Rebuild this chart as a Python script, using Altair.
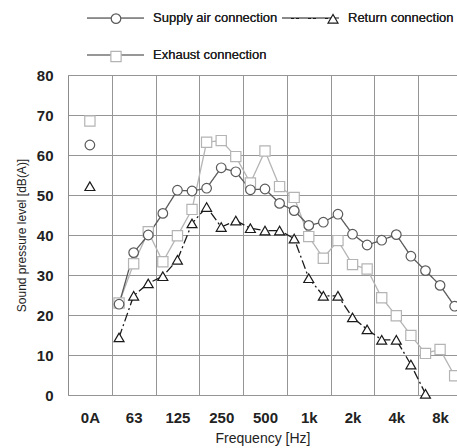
import altair as alt
import pandas as pd

series_names = ["Supply air connection", "Return connection", "Exhaust connection"]
series_colors = ["#5a5a5a", "#1a1a1a", "#b4b4b4"]
series_dashes = [[1, 0], [9, 3, 2, 3], [1, 0]]
marker_shapes = ["circle", "triangle-up", "square"]
marker_sizes = [92, 105, 70]

column_labels = ["0A", "63", "125", "250", "500", "1k", "2k", "4k", "8k"]
bands = ["50", "63", "80", "100", "125", "160", "200", "250", "315", "400", "500", "630",
         "800", "1k", "1.25k", "1.6k", "2k", "2.5k", "3.15k", "4k", "5k", "6.3k", "8k", "10k"]

oa_db = [62.5, 52.2, 68.5]
supply_db = [22.7, 35.6, 40.0, 45.4, 51.2, 51.0, 51.7, 56.8, 55.8, 51.3, 51.5, 47.9,
             46.1, 42.4, 43.2, 45.2, 40.2, 37.5, 38.7, 40.1, 34.7, 31.1, 27.4, 22.2]
return_db = [14.4, 24.8, 27.9, 29.7, 33.8, 42.9, 47.0, 42.0, 43.6, 41.7, 41.1, 41.1,
             39.1, 29.2, 24.8, 24.8, 19.4, 16.4, 13.8, 13.8, 7.6, 0.3]
exhaust_db = [23.0, 32.8, 40.8, 33.3, 39.8, 46.4, 63.2, 63.6, 59.6, 53.0, 61.0, 52.1,
              49.4, 39.6, 34.2, 38.6, 32.6, 31.5, 24.3, 19.8, 14.9, 10.4, 11.4, 4.8]

# slot layout: one octave column = 3 slots; column 0 holds the overall value
slots = ["oa_l", "0A", "oa_r"] + bands

rows = []
values_by_series = {0: supply_db, 1: return_db, 2: exhaust_db}
for k in [2, 0, 1]:  # drawing order: exhaust, supply, return on top
    name = series_names[k]
    rows.append({"series": name, "band": "0A", "slot": slots.index("0A") + 0.5, "db": oa_db[k], "kind": "oa"})
    for b, v in zip(bands, values_by_series[k]):
        rows.append({"series": name, "band": b, "slot": slots.index(b) + 0.5, "db": v, "kind": "band"})
df = pd.DataFrame(rows)

W, H = 389, 320
x_max = 26.66
col_px = W / x_max * 3

label_font = "Liberation Sans, Arial, sans-serif"
text_font = "Liberation Sans, Arial, sans-serif"

x_enc = alt.X(
    "slot:Q",
    scale=alt.Scale(domain=[0, x_max], nice=False, zero=False),
    axis=alt.Axis(
        values=[0, 3, 6, 9, 12, 15, 18, 21, 24],
        labelExpr="['" + "','".join(column_labels) + "'][floor(datum.value / 3 + 0.01)]",
        labelOffset=col_px / 2,
        labelAlign="center",
        labelFlush=False,
        labelOverlap=False,
        labelPadding=15,
        labelFont=label_font,
        labelFontSize=15,
        labelFontWeight="bold",
        labelColor="#222222",
        ticks=False,
        domain=False,
        grid=True,
        title="Frequency [Hz]",
        titleFont=text_font,
        titleFontSize=14,
        titleFontWeight="normal",
        titleColor="#222222",
        titlePadding=6,
    ),
)
y_enc = alt.Y(
    "db:Q",
    scale=alt.Scale(domain=[0, 80], nice=False),
    axis=alt.Axis(
        values=[0, 10, 20, 30, 40, 50, 60, 70, 80],
        labelPadding=15,
        labelFont=label_font,
        labelFontSize=15,
        labelFontWeight="bold",
        labelColor="#222222",
        ticks=False,
        tickSize=0,
        domain=True,
        domainColor="#8c8c8c",
        grid=True,
        title="Sound pressure level [dB(A)]",
        titleFont=text_font,
        titleFontSize=12,
        titleFontWeight="normal",
        titleColor="#222222",
        titlePadding=8,
    ),
)

base = alt.Chart(df).encode(x=x_enc, y=y_enc)

LEG_X = 18
leg_lines = alt.Legend(
    title=None, orient="none", direction="horizontal", legendX=LEG_X, legendY=-86.5, columns=2,
    symbolType="stroke", symbolSize=3249, symbolStrokeWidth=1.3,
    labelOffset=8, columnPadding=1, rowPadding=0,
)
leg_marks = alt.Legend(
    title=None, orient="none", direction="horizontal", legendX=LEG_X, legendY=-63, columns=2,
    symbolStrokeWidth=1.2, symbolFillColor="white", symbolOffset=23.5,
    labelExpr="''", labelOffset=55, columnPadding=125, rowPadding=22,
)

lines = base.transform_filter("datum.kind == 'band'").mark_line(strokeWidth=1.3).encode(
    color=alt.Color("series:N", sort=series_names, scale=alt.Scale(range=series_colors), legend=leg_lines),
    strokeDash=alt.StrokeDash("series:N", sort=series_names, scale=alt.Scale(range=series_dashes),
                              legend=leg_lines),
)

points = base.mark_point(filled=False, fill="white", fillOpacity=1, strokeWidth=1.2, opacity=1).encode(
    stroke=alt.Stroke("series:N", scale=alt.Scale(domain=series_names, range=series_colors), legend=leg_marks),
    shape=alt.Shape("series:N", scale=alt.Scale(domain=series_names, range=marker_shapes), legend=leg_marks),
    size=alt.Size("series:N", scale=alt.Scale(domain=series_names, range=marker_sizes), legend=leg_marks),
)

chart = alt.layer(lines, points).properties(
    width=W, height=H,
    padding={"left": 68, "top": 75, "right": 0, "bottom": 53},
    autosize=alt.AutoSizeParams(type="none"),
    background="white",
).configure_view(stroke=None).configure_axis(
    gridColor="#959595", gridWidth=1, gridOpacity=1,
).configure_legend(
    labelFont=text_font, labelFontSize=13, labelColor="#222222", padding=0,
)

chart.save("out.html", embed_options={"renderer": "svg", "actions": False})
